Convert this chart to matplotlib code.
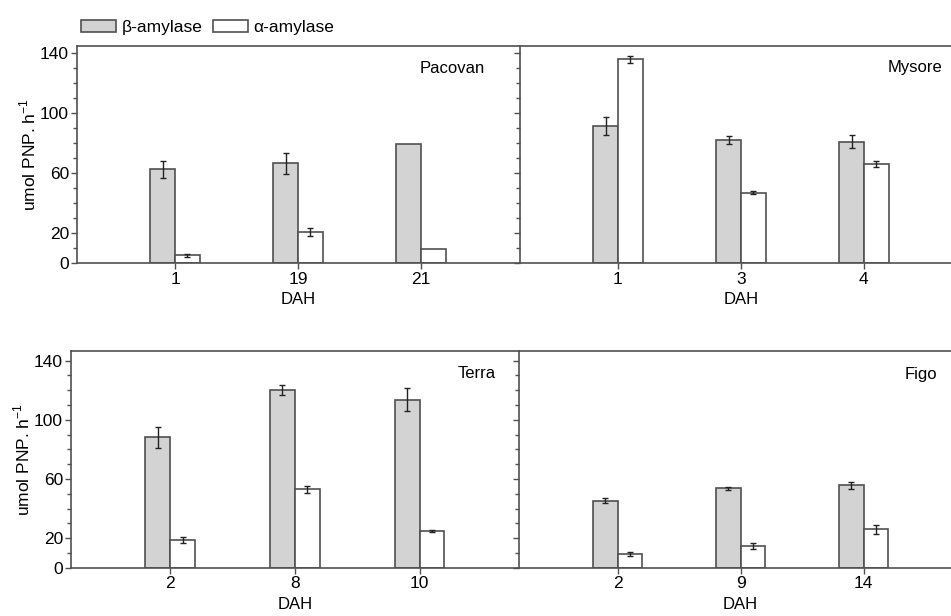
import numpy as np
import matplotlib.pyplot as plt
from matplotlib.patches import Patch
from matplotlib.ticker import MultipleLocator, FixedLocator

plt.rcParams['font.family'] = ['Liberation Sans', 'DejaVu Sans']

# Pacovan
pac_dah = ["1", "19", "21"]
pac_beta = [62.7, 66.7, 79.3]
pac_beta_err = [5.5, 7.0, 0.0]
pac_alpha = [5.5, 20.7, 9.5]
pac_alpha_err = [1.0, 2.7, 0.0]

# Mysore
mys_dah = ["1", "3", "4"]
mys_beta = [91.5, 82.0, 81.1]
mys_beta_err = [6.0, 2.7, 4.4]
mys_alpha = [136.0, 46.9, 66.0]
mys_alpha_err = [2.2, 1.0, 2.0]

# Terra
ter_dah = ["2", "8", "10"]
ter_beta = [88.2, 120.1, 113.4]
ter_beta_err = [7.0, 3.4, 7.8]
ter_alpha = [18.9, 53.0, 24.8]
ter_alpha_err = [2.0, 2.5, 0.5]

# Figo
fig_dah = ["2", "9", "14"]
fig_beta = [45.3, 53.6, 55.7]
fig_beta_err = [1.5, 1.2, 2.5]
fig_alpha = [9.2, 14.4, 25.9]
fig_alpha_err = [1.2, 2.0, 2.8]

edge = '#505050'
grey = '#d3d3d3'
w = 0.2

fig = plt.figure(figsize=(9.51, 6.16), dpi=100)

# [left, bottom, width, height] in figure coords
ax_pac = fig.add_axes([0.0806, 0.5726, 0.4656, 0.3528])
ax_mys = fig.add_axes([0.5463, 0.5726, 0.4656, 0.3528])
ax_ter = fig.add_axes([0.0743, 0.0784, 0.4717, 0.3523])
ax_fig = fig.add_axes([0.5460, 0.0784, 0.4656, 0.3523])

panels = [
    (ax_pac, pac_dah, pac_beta, pac_beta_err, pac_alpha, pac_alpha_err, "Pacovan", 0.922, 0.895, True, 145),
    (ax_mys, mys_dah, mys_beta, mys_beta_err, mys_alpha, mys_alpha_err, "Mysore", 0.956, 0.9, False, 145),
    (ax_ter, ter_dah, ter_beta, ter_beta_err, ter_alpha, ter_alpha_err, "Terra", 0.948, 0.897, True, 146.7),
    (ax_fig, fig_dah, fig_beta, fig_beta_err, fig_alpha, fig_alpha_err, "Figo", 0.945, 0.888, False, 146.7),
]

for ax, dah, beta, beta_err, alpha, alpha_err, name, tx, ty, show_y, ytop in panels:
    x = np.arange(len(dah))
    ax.bar(x - w / 2, beta, w, color=grey, edgecolor=edge, linewidth=1.2, zorder=2)
    ax.bar(x + w / 2, alpha, w, color='white', edgecolor=edge, linewidth=1.2, zorder=2)
    be = np.array(beta_err)
    ae = np.array(alpha_err)
    mb = be > 0
    ma = ae > 0
    ax.errorbar((x - w / 2)[mb], np.array(beta)[mb], yerr=be[mb], fmt='none',
                ecolor='#222222', elinewidth=1, capsize=2, capthick=1, zorder=3)
    ax.errorbar((x + w / 2)[ma], np.array(alpha)[ma], yerr=ae[ma], fmt='none',
                ecolor='#222222', elinewidth=1, capsize=2, capthick=1, zorder=3)

    ax.set_xlim(-0.8, 2.8)
    ax.set_ylim(0, ytop)
    ax.set_xticks(x)
    ax.set_xticklabels(dah, fontsize=12.5)
    ax.set_xlabel("DAH", fontsize=12, labelpad=4)
    ax.yaxis.set_major_locator(FixedLocator([0, 20, 60, 100, 140]))
    ax.yaxis.set_minor_locator(MultipleLocator(10))
    ax.tick_params(axis='y', which='major', direction='out', length=4, width=1, color=edge, labelsize=12.5, pad=1.5)
    ax.tick_params(axis='y', which='minor', direction='out', length=3, width=1, color=edge)
    ax.tick_params(axis='x', direction='out', length=4, width=1, color=edge, pad=2)
    if not show_y:
        ax.tick_params(axis='y', which='both', labelleft=False)
    else:
        ax.set_ylabel("umol PNP. h$^{\\mathregular{-1}}$", fontsize=12.5, labelpad=1)

    for s in ['top', 'bottom', 'left']:
        ax.spines[s].set_color(edge)
        ax.spines[s].set_linewidth(1.2)
    ax.spines['right'].set_visible(False)

    ax.text(tx, ty, name, transform=ax.transAxes, ha='right', va='center', fontsize=12)

handles = [Patch(facecolor=grey, edgecolor=edge, linewidth=1.2, label='\u03b2-amylase'),
           Patch(facecolor='white', edgecolor=edge, linewidth=1.2, label='\u03b1-amylase')]
fig.legend(handles=handles, loc='upper left', bbox_to_anchor=(0.074, 0.985), ncol=2,
           frameon=False, fontsize=12.5, handlelength=2.0, handleheight=0.75,
           handletextpad=0.35, columnspacing=0.6, borderaxespad=0.2)

fig.savefig("out.png", dpi=100)
